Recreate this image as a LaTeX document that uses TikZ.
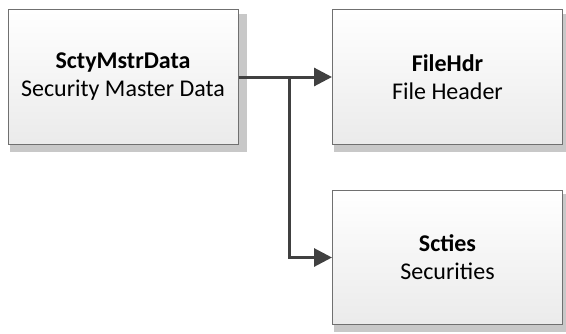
\documentclass[tikz,border=0pt]{standalone}
\usepackage{fontspec}
\setmainfont{Carlito}
\usetikzlibrary{arrows.meta,shadows}
\definecolor{boxline}{HTML}{707070}
\definecolor{boxshade}{HTML}{C8C8C8}
\definecolor{connline}{HTML}{404040}
\tikzset{
  entity/.style={
    draw=boxline, line width=1pt,
    top color=white, bottom color=black!8,
    minimum width=230pt, minimum height=134pt,
    inner sep=0pt, align=center,
    font=\fontsize{24}{28}\selectfont,
    drop shadow={shadow xshift=5pt, shadow yshift=-5.5pt, shadow scale=1.03,
                 fill=boxshade, opacity=1}
  },
  conn/.style={
    draw=connline, line width=3pt,
    -{Triangle[length=18pt,width=18pt]}
  }
}
\begin{document}
\begin{tikzpicture}[x=1pt,y=1pt]
  \useasboundingbox (0,0) rectangle (566,333);
  % entity boxes
  \node[entity] (sm) at (123,256) {\textbf{SctyMstrData}\\Security Master Data};
  \node[entity] (fh) at (447.5,256) {\textbf{FileHdr}\\File Header};
  \node[entity] (sc) at (447.5,75.5) {\textbf{Scties}\\Securities};
  % connectors
  \coordinate (br) at (289,256);
  \draw[conn] (sm.east) -- (fh.west);
  \draw[conn] (br) |- (sc.west);
\end{tikzpicture}
\end{document}
